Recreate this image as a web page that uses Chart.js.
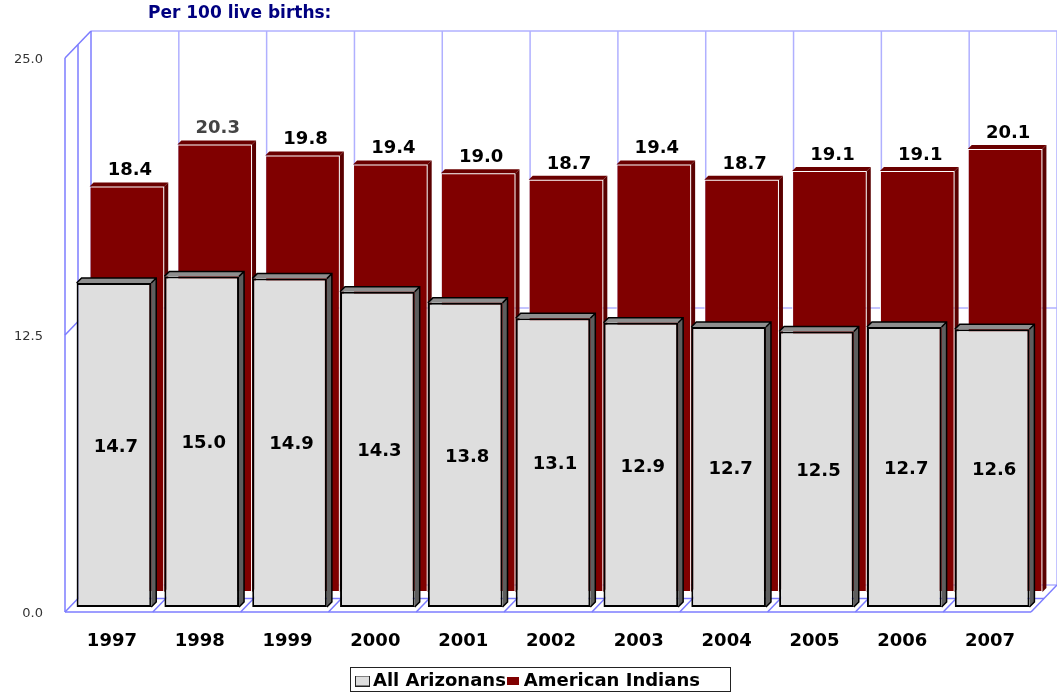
<!DOCTYPE html>
<html lang="en">
<head>
<meta charset="UTF-8">
<title>Per 100 live births</title>
<style>
    html, body { margin: 0; padding: 0; background: #fff; overflow: hidden; }
    canvas { display: block; }
</style>
</head>
<body>
<canvas id="chart" width="1057" height="693"></canvas>
<script src="https://cdn.jsdelivr.net/npm/chart.js"></script>
<script>
const years = ['1997','1998','1999','2000','2001','2002','2003','2004','2005','2006','2007'];
const allArizonans = [14.7,15.0,14.9,14.3,13.8,13.1,12.9,12.7,12.5,12.7,12.6];
const americanIndians = [18.4,20.3,19.8,19.4,19.0,18.7,19.4,18.7,19.1,19.1,20.1];
const yTicks = [0, 12.5, 25];

const font = 'DejaVu Sans';
const wallBlue = '#7c7cff';
const gridBlue = '#b0b0ff';

// legend swatch as a small canvas, so it sits closer to the text than boxWidth allows
function swatch(w, h, fill, stroke) {
    const c = document.createElement('canvas');
    c.width = w; c.height = h;
    const g = c.getContext('2d');
    g.fillStyle = fill;
    g.fillRect(0, 0, w, h);
    g.strokeStyle = stroke;
    g.strokeRect(0.5, 0.5, w - 1, h - 1);
    return c;
}

function place(scale, left, right, top, bottom) {
    scale.left = left; scale.right = right; scale.top = top; scale.bottom = bottom;
    scale.width = right - left; scale.height = bottom - top;
    scale.configure();
}

function line(ctx, x1, y1, x2, y2) {
    ctx.beginPath();
    ctx.moveTo(x1, y1);
    ctx.lineTo(x2, y2);
    ctx.stroke();
}

// fake 3D: each series sits on its own pair of shifted scales
const layoutPlugin = {
    id: 'layout3d',
    afterLayout(chart) {
        const s = chart.scales;
        place(s.yAxis, 0, 51, 60, 614); // labels sit 2px under the wall lines
        place(s.xFront, 70, 1036, 607, 670);
        place(s.yFront, 0, 0, 56, 607);
        place(s.xBack, 83, 1049, 592, 600);
        place(s.yBack, 0, 0, 41, 592);
        const t = chart.titleBlock;
        t.left = 148; t.right = 400; t.top = 3; t.bottom = 26;
        const l = chart.legend;
        l.left = 355; l.right = 730; l.top = 666; l.bottom = 692; l.width = 375;
    },
    beforeDatasetsDraw(chart) {
        const ctx = chart.ctx;
        const y = chart.scales.yAxis;
        const n = years.length;
        const step = (1031 - 65) / n;
        const dx = 26, dy = -27;
        const wall = v => y.getPixelForValue(v) - 2;
        const y0 = wall(0);
        const yMax = wall(25);
        ctx.save();
        ctx.lineWidth = 1.5;
        // back wall
        ctx.strokeStyle = gridBlue;
        for (let i = 1; i <= n; i++) {
            line(ctx, 65 + dx + i * step, yMax + dy, 65 + dx + i * step, y0 + dy);
        }
        yTicks.forEach(v => {
            const p = wall(v) + dy;
            line(ctx, 65 + dx, p, 1031 + dx, p);
        });
        // left wall and floor
        ctx.strokeStyle = wallBlue;
        line(ctx, 65 + dx, yMax + dy, 65 + dx, y0 + dy);
        line(ctx, 65, yMax, 65, y0);
        line(ctx, 78, yMax - 13, 78, y0 - 13);
        line(ctx, 65, y0, 1031, y0);
        line(ctx, 78, y0 - 13.5, 1044, y0 - 13.5);
        yTicks.forEach(v => {
            const p = wall(v);
            line(ctx, 65, p, 65 + dx, p + dy);
        });
        for (let i = 1; i <= n; i++) {
            line(ctx, 65 + i * step, y0, 65 + dx + i * step, y0 + dy);
        }
        ctx.restore();
    },
    afterDatasetDraw(chart, args) {
        const ctx = chart.ctx;
        const front = args.index === 0;
        const d = front ? 5 : 4;
        ctx.save();
        args.meta.data.forEach(bar => {
            const p = bar.getProps(['x', 'y', 'base', 'width'], true);
            const l = p.x - p.width / 2, r = p.x + p.width / 2;
            // top face
            ctx.fillStyle = front ? '#8e8e8e' : '#6a0000';
            ctx.beginPath();
            ctx.moveTo(l, p.y); ctx.lineTo(l + d, p.y - d); ctx.lineTo(r + d, p.y - d); ctx.lineTo(r, p.y);
            ctx.closePath(); ctx.fill();
            // side face
            ctx.fillStyle = front ? '#5e5e5e' : '#5a0000';
            ctx.beginPath();
            ctx.moveTo(r, p.y); ctx.lineTo(r + d, p.y - d); ctx.lineTo(r + d, p.base - d); ctx.lineTo(r, p.base);
            ctx.closePath(); ctx.fill();
            if (front) {
                ctx.strokeStyle = '#000';
                ctx.lineWidth = 1.5;
                ctx.beginPath();
                ctx.moveTo(l, p.y); ctx.lineTo(l + d, p.y - d); ctx.lineTo(r + d, p.y - d);
                ctx.lineTo(r + d, p.base - d); ctx.lineTo(r, p.base);
                ctx.moveTo(r, p.y); ctx.lineTo(r + d, p.y - d);
                ctx.stroke();
            }
        });
        ctx.restore();
    },
    afterDatasetsDraw(chart) {
        const ctx = chart.ctx;
        ctx.save();
        ctx.font = 'bold 18px "' + font + '"';
        ctx.textAlign = 'center';
        chart.getDatasetMeta(1).data.forEach((bar, i) => {
            ctx.fillStyle = i === 1 ? '#444' : '#000';
            ctx.textBaseline = 'bottom';
            ctx.fillText(americanIndians[i].toFixed(1), bar.x + 3, bar.y - 7);
        });
        ctx.fillStyle = '#000';
        chart.getDatasetMeta(0).data.forEach((bar, i) => {
            ctx.textBaseline = 'middle';
            ctx.fillText(allArizonans[i].toFixed(1), bar.x + 2, (bar.y + bar.base) / 2 + 2);
        });
        ctx.restore();
        // legend frame
        ctx.save();
        ctx.strokeStyle = '#222';
        ctx.lineWidth = 1;
        ctx.strokeRect(350.5, 667.5, 380, 24);
        ctx.restore();
    }
};

new Chart(document.getElementById('chart'), {
    type: 'bar',
    data: {
        labels: years,
        datasets: [
            {
                label: 'All Arizonans',
                data: allArizonans,
                xAxisID: 'xFront',
                yAxisID: 'yFront',
                order: 1,
                clip: false,
                grouped: false,
                backgroundColor: '#dedede',
                borderColor: '#000',
                borderWidth: 2,
                borderSkipped: false,
                categoryPercentage: 1,
                barPercentage: 0.85
            },
            {
                label: 'American Indians',
                data: americanIndians,
                xAxisID: 'xBack',
                yAxisID: 'yBack',
                order: 2,
                clip: false,
                grouped: false,
                backgroundColor: '#800000',
                borderColor: '#fff',
                borderWidth: 1,
                borderSkipped: false,
                categoryPercentage: 1,
                barPercentage: 0.85
            }
        ]
    },
    options: {
        responsive: false,
        animation: false,
        layout: { padding: 0 },
        scales: {
            yAxis: {
                position: 'left',
                min: 0,
                max: 25,
                afterBuildTicks: axis => { axis.ticks = yTicks.map(v => ({ value: v })); },
                grid: { display: false },
                border: { display: false },
                ticks: {
                    color: '#333',
                    padding: 0,
                    font: { family: font, size: 13 },
                    callback: v => Number(v).toFixed(1)
                }
            },
            xFront: {
                position: 'bottom',
                grid: { display: false },
                border: { display: false },
                ticks: {
                    color: '#000',
                    padding: 16,
                    labelOffset: -2,
                    autoSkip: false,
                    maxRotation: 0,
                    font: { family: font, size: 18, weight: 'bold' }
                }
            },
            yFront: { display: false, min: 0, max: 25 },
            xBack: { display: false, position: 'bottom' },
            yBack: { display: false, min: 0, max: 25 }
        },
        plugins: {
            title: {
                display: true,
                text: 'Per 100 live births:',
                align: 'start',
                color: '#000080',
                padding: 0,
                font: { family: font, size: 17, weight: 'bold' }
            },
            tooltip: { enabled: false },
            legend: {
                position: 'bottom',
                align: 'start',
                labels: {
                    usePointStyle: true,
                    boxWidth: 3,
                    padding: 6,
                    color: '#000',
                    font: { family: font, size: 18, weight: 'bold' },
                    generateLabels: chart => chart.data.datasets.map((ds, i) => ({
                        text: ds.label,
                        datasetIndex: i,
                        fontColor: '#000',
                        lineWidth: 0,
                        pointStyle: i === 0 ? swatch(15, 11, '#dedede', '#222') : swatch(12, 8, '#800000', '#800000')
                    }))
                }
            }
        }
    },
    plugins: [layoutPlugin]
});
</script>
</body>
</html>
